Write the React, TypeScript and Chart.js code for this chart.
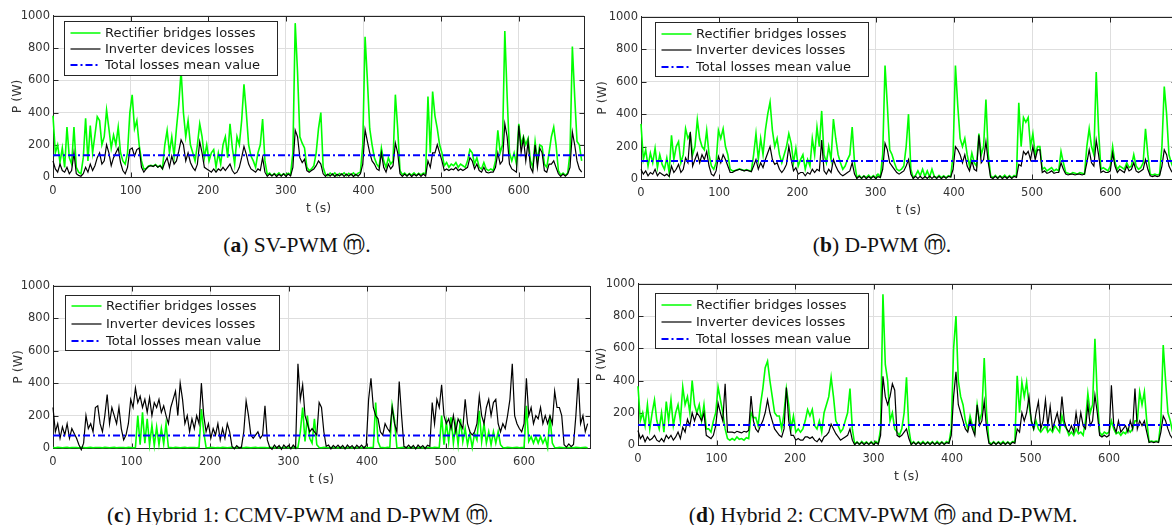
import React, { useEffect, useRef } from 'react';
import { Chart, registerables } from 'chart.js';

Chart.register(...registerables);

// ---------------- DATA ----------------
const TIME = [
  0, 3, 6, 9, 12, 15, 18, 21, 24, 27,
  30, 33, 36, 39, 42, 45, 48, 51, 54, 57,
  60, 63, 66, 69, 72, 75, 78, 81, 84, 87,
  90, 93, 96, 99, 102, 105, 108, 111, 114, 117,
  120, 123, 126, 129, 132, 135, 138, 141, 144, 147,
  150, 153, 156, 159, 162, 165, 168, 171, 174, 177,
  180, 183, 186, 189, 192, 195, 198, 201, 204, 207,
  210, 213, 216, 219, 222, 225, 228, 231, 234, 237,
  240, 243, 246, 249, 252, 255, 258, 261, 264, 267,
  270, 273, 276, 279, 282, 285, 288, 291, 294, 297,
  300, 303, 306, 309, 312, 315, 318, 321, 324, 327,
  330, 333, 336, 339, 342, 345, 348, 351, 354, 357,
  360, 363, 366, 369, 372, 375, 378, 381, 384, 387,
  390, 393, 396, 399, 402, 405, 408, 411, 414, 417,
  420, 423, 426, 429, 432, 435, 438, 441, 444, 447,
  450, 453, 456, 459, 462, 465, 468, 471, 474, 477,
  480, 483, 486, 489, 492, 495, 498, 501, 504, 507,
  510, 513, 516, 519, 522, 525, 528, 531, 534, 537,
  540, 543, 546, 549, 552, 555, 558, 561, 564, 567,
  570, 573, 576, 579, 582, 585, 588, 591, 594, 597,
  600, 603, 606, 609, 612, 615, 618, 621, 624, 627,
  630, 633, 636, 639, 642, 645, 648, 651, 654, 657,
  660, 663, 666, 669, 672, 675, 678, 681,
];

// (a) SV-PWM
const RECT_A = [
  380, 150, 200, 90, 180, 60, 310, 120, 80, 310,
  60, 30, 20, 120, 365, 100, 320, 150, 260, 375,
  350, 200, 250, 415, 300, 180, 260, 200, 310, 150,
  100, 80, 150, 400, 510, 300, 350, 200, 100, 50,
  53, 68, 73, 68, 78, 63, 73, 53, 200, 290,
  150, 250, 130, 300, 450, 660, 400, 250, 350, 200,
  150, 100, 200, 330, 250, 120, 200, 100, 150, 170,
  60, 150, 80, 200, 250, 120, 330, 180, 80, 250,
  200, 350, 575, 400, 200, 130, 100, 60, 150, 200,
  360, 100, 15, 24, 8, 22, 12, 25, 8, 20,
  12, 24, 15, 150, 955, 650, 250, 210, 180, 60,
  40, 50, 70, 150, 300, 400, 60, 15, 8, 24,
  12, 25, 8, 22, 14, 26, 9, 23, 12, 25,
  10, 24, 30, 200, 870, 600, 300, 200, 120, 80,
  60, 180, 100, 60, 120, 80, 100, 511, 300, 40,
  14, 25, 9, 22, 12, 26, 10, 23, 13, 24,
  20, 500, 150, 530, 380, 300, 200, 150, 70, 90,
  60, 80, 70, 90, 60, 80, 70, 60, 100, 170,
  150, 80, 120, 60, 50, 90, 50, 40, 50, 40,
  100, 290, 150, 200, 906, 500, 150, 100, 150, 80,
  330, 200, 250, 200, 240, 100, 60, 220, 100, 200,
  190, 80, 60, 150, 250, 310, 200, 40, 12, 24,
  10, 25, 150, 810, 500, 220, 200, 100,
];
const INV_A = [
  100, 50, 30, 80, 40, 30, 60, 20, 40, 150,
  20, 10, 5, 20, 60, 30, 80, 40, 70, 120,
  150, 80, 100, 200, 150, 70, 120, 150, 180, 90,
  40, 20, 60, 170, 180, 130, 170, 180, 60, 30,
  50, 65, 70, 65, 75, 60, 70, 50, 90, 120,
  60, 130, 80, 100, 160, 230, 200, 100, 150, 90,
  60, 40, 80, 220, 150, 60, 50, 40, 30, 50,
  30, 50, 40, 60, 40, 60, 80, 40, 20, 30,
  60, 120, 190, 140, 80, 50, 40, 30, 50, 40,
  120, 30, 4, 18, 6, 20, 3, 17, 5, 19,
  4, 18, 6, 60, 290, 250, 120, 90, 110, 40,
  30, 40, 50, 70, 100, 80, 20, 4, 18, 5,
  19, 3, 17, 6, 20, 4, 18, 5, 19, 3,
  17, 5, 20, 80, 294, 220, 150, 100, 80, 50,
  40, 150, 60, 30, 80, 50, 70, 210, 150, 20,
  4, 18, 5, 20, 3, 17, 6, 19, 4, 18,
  6, 100, 60, 150, 150, 200, 150, 100, 40, 50,
  40, 50, 45, 60, 40, 50, 40, 50, 60, 120,
  100, 50, 80, 40, 30, 60, 30, 25, 30, 30,
  60, 150, 80, 100, 330, 250, 80, 50, 40, 30,
  320, 150, 240, 100, 220, 60, 30, 200, 60, 180,
  150, 40, 30, 80, 80, 100, 60, 20, 4, 18,
  5, 19, 60, 280, 200, 100, 50, 30,
];
const MEAN_A = 135;

// (b) D-PWM
const RECT_B = [
  340, 120, 180, 80, 160, 100, 190, 70, 150, 90,
  60, 130, 40, 270, 120, 200, 230, 100, 150, 310,
  250, 280, 150, 200, 365, 250, 200, 180, 300, 150,
  80, 60, 100, 300, 250, 310, 200, 150, 60, 50,
  52, 57, 62, 57, 52, 58, 53, 48, 150, 280,
  120, 250, 150, 300, 400, 475, 300, 200, 250, 150,
  100, 150, 200, 280, 220, 100, 190, 80, 120, 150,
  60, 120, 80, 250, 150, 320, 200, 420, 150, 100,
  200, 120, 370, 250, 150, 100, 60, 80, 120, 150,
  320, 100, 8, 22, 6, 20, 9, 23, 7, 21,
  8, 30, 12, 150, 700, 450, 180, 150, 100, 60,
  50, 60, 80, 200, 400, 60, 8, 22, 50, 20,
  60, 15, 50, 12, 60, 15, 8, 22, 9, 20,
  7, 21, 15, 150, 700, 450, 250, 200, 250, 150,
  80, 160, 100, 80, 280, 150, 200, 490, 150, 20,
  8, 22, 6, 20, 9, 23, 7, 21, 8, 22,
  15, 470, 200, 380, 350, 380, 200, 280, 150, 200,
  200, 60, 70, 50, 60, 70, 50, 60, 50, 170,
  100, 40, 35, 30, 40, 35, 30, 40, 35, 30,
  200, 310, 200, 150, 660, 300, 60, 70, 60, 50,
  80, 200, 100, 60, 80, 70, 60, 100, 70, 80,
  150, 80, 60, 70, 100, 310, 150, 30, 25, 30,
  25, 30, 200, 570, 400, 150, 100, 60,
];
const INV_B = [
  60, 30, 50, 20, 40, 30, 60, 20, 40, 30,
  20, 30, 15, 80, 40, 60, 90, 40, 60, 130,
  100, 290, 80, 120, 160, 100, 150, 120, 170, 80,
  30, 20, 50, 140, 100, 150, 120, 80, 40, 40,
  50, 55, 60, 55, 50, 55, 50, 45, 80, 120,
  60, 100, 70, 120, 160, 200, 120, 90, 100, 60,
  40, 60, 90, 200, 120, 50, 70, 30, 40, 40,
  20, 40, 30, 60, 40, 60, 50, 240, 50, 30,
  60, 40, 120, 80, 50, 30, 20, 30, 40, 50,
  100, 30, 3, 16, 4, 18, 2, 15, 4, 17,
  3, 15, 10, 60, 220, 180, 100, 80, 60, 40,
  30, 40, 50, 80, 120, 30, 3, 16, 4, 17,
  2, 15, 4, 18, 3, 16, 4, 17, 2, 15,
  4, 16, 12, 60, 200, 180, 150, 100, 150, 80,
  50, 110, 60, 50, 270, 100, 120, 230, 100, 10,
  3, 16, 4, 18, 2, 15, 4, 17, 3, 16,
  10, 90, 80, 170, 150, 170, 120, 200, 120, 180,
  180, 40, 50, 35, 40, 50, 35, 40, 40, 100,
  60, 30, 25, 30, 30, 25, 30, 30, 25, 30,
  100, 180, 100, 80, 240, 150, 40, 50, 40, 40,
  50, 160, 80, 40, 60, 50, 40, 80, 50, 60,
  100, 50, 40, 50, 60, 120, 60, 20, 15, 20,
  15, 20, 80, 180, 150, 80, 50, 30,
];
const MEAN_B = 111;

// (c) Hybrid 1
const RECT_C = [
  3, 2, 4, 3, 2, 3, 4, 2, 3, 3,
  3, 2, 4, 3, 2, 3, 4, 2, 3, 3,
  3, 2, 4, 3, 2, 3, 4, 2, 3, 3,
  3, 2, 4, 3, 2, 3, 200, 20, 220, 30,
  180, 20, 140, 15, 130, 20, 120, 25, 150, 3,
  3, 2, 4, 3, 2, 3, 4, 2, 3, 3,
  3, 2, 4, 240, 100, 3, 2, 4, 3, 2,
  3, 2, 4, 3, 2, 3, 4, 2, 3, 3,
  3, 2, 4, 3, 2, 3, 4, 2, 3, 3,
  3, 2, 4, 3, 2, 3, 4, 2, 3, 3,
  3, 2, 4, 3, 3, 100, 250, 40, 200, 60,
  30, 180, 20, 3, 2, 4, 3, 2, 3, 3,
  3, 2, 4, 3, 2, 3, 4, 2, 3, 3,
  3, 2, 4, 3, 2, 3, 4, 280, 40, 3,
  3, 2, 4, 3, 260, 170, 3, 2, 3, 4,
  3, 2, 4, 3, 2, 3, 4, 2, 3, 3,
  3, 2, 4, 3, 2, 200, 20, 160, 40, 190,
  30, 150, 20, 180, 40, 120, 20, 90, 3, 90,
  50, 230, 40, 150, 30, 100, 20, 100, 30, 100,
  20, 3, 2, 4, 3, 2, 3, 4, 2, 3,
  3, 260, 40, 70, 30, 70, 30, 70, 30, 60,
  3, 200, 30, 3, 2, 4, 3, 2, 3, 3,
  3, 2, 4, 3, 2, 3, 4, 2,
];
const INV_C = [
  250, 100, 150, 60, 130, 80, 150, 60, 120, 90,
  60, 20, -10, 30, 200, 120, 150, 100, 250, 260,
  150, 100, 200, 330, 150, 250, 200, 150, 250, 120,
  50, 80, 150, 300, 250, 370, 280, 320, 250, 300,
  220, 310, 200, 280, 250, 300, 220, 260, 200, 150,
  250, 300, 350, 200, 400, 300, 150, 200, 100, 180,
  120, 200, 150, 400, 200, 100, 150, 60, 120, 80,
  150, 50, 120, 60, 150, 100, 10, -5, 15, 0,
  5, 100, 290, 200, 80, 60, 80, 100, 60, 80,
  260, 50, 5, -8, 18, 0, 15, -8, 18, 2,
  16, -5, 18, 0, 520, 300, 390, 200, 150, 100,
  120, 100, 80, 280, 250, 100, 10, 18, -5, 16,
  2, 18, 0, 16, -5, 18, 2, 15, -4, 17,
  2, 18, 0, 16, 300, 430, 250, 200, 180, 100,
  80, 150, 120, 100, 250, 150, 100, 410, 200, 10,
  2, 18, 0, 16, -5, 18, 2, 15, -4, 17,
  10, 280, 150, 300, 250, 390, 200, 150, 180, 120,
  200, 100, 180, 150, 120, 300, 150, 100, 80, 100,
  150, 320, 200, 150, 250, 300, 200, 280, 300, 150,
  100, 150, 120, 200, 300, 520, 200, 150, 120, 100,
  150, 430, 200, 250, 150, 200, 180, 250, 150, 200,
  150, 200, 150, 350, 250, 250, 200, 20, 5, 25,
  8, 22, 200, 430, 150, 200, 100, 150,
];
const MEAN_C = 77;

// (d) Hybrid 2
const RECT_D = [
  365, 150, 200, 120, 250, 100, 200, 280, 150, 100,
  200, 80, 270, 150, 280, 120, 200, 250, 150, 360,
  250, 300, 200, 400, 250, 200, 250, 150, 250, 100,
  100, 80, 150, 200, 360, 280, 200, 100, 40, 30,
  40, 30, 50, 35, 40, 30, 45, 40, 200, 170,
  170, 120, 250, 350, 480, 520, 400, 300, 200, 180,
  180, 100, 200, 350, 250, 100, 180, 80, 100, 80,
  100, 150, 220, 180, 220, 120, 100, 150, 80, 200,
  250, 300, 420, 300, 150, 120, 80, 100, 150, 200,
  350, 100, 6, 20, 5, 22, 8, 20, 5, 21,
  7, 22, 8, 100, 935, 500, 400, 150, 200, 100,
  80, 60, 100, 200, 420, 100, 6, 21, 5, 20,
  8, 22, 6, 20, 7, 21, 5, 22, 8, 20,
  6, 21, 12, 100, 600, 800, 400, 300, 250, 150,
  100, 180, 120, 80, 250, 150, 200, 540, 200, 20,
  6, 21, 5, 20, 8, 22, 6, 20, 7, 21,
  20, 430, 200, 390, 300, 390, 250, 150, 100, 150,
  100, 80, 100, 120, 80, 100, 80, 120, 100, 80,
  180, 120, 100, 60, 80, 60, 100, 70, 80, 60,
  150, 320, 200, 250, 660, 300, 80, 60, 80, 70,
  80, 150, 100, 70, 80, 60, 80, 70, 100, 80,
  100, 150, 150, 330, 250, 330, 150, 20, 25, 20,
  25, 20, 150, 620, 400, 200, 150, 80,
];
const INV_D = [
  90, 40, 60, 20, 50, 30, 40, 60, 30, 20,
  40, 20, 60, 40, 60, 30, 50, 80, 40, 110,
  80, 160, 120, 200, 150, 200, 180, 150, 200, 60,
  50, 40, 60, 120, 260, 200, 150, 380, 80, 80,
  80, 75, 85, 80, 75, 85, 80, 90, 304, 150,
  100, 80, 120, 150, 200, 280, 200, 150, 100, 80,
  60, 50, 100, 356, 150, 60, 60, 30, 40, 30,
  30, 50, 50, 40, 50, 30, 20, 40, 20, 50,
  60, 80, 130, 100, 70, 50, 30, 40, 50, 60,
  100, 30, 2, 16, 3, 17, 2, 15, 3, 16,
  2, 15, 5, 60, 427, 300, 250, 300, 380, 340,
  60, 50, 60, 80, 100, 40, 2, 16, 3, 17,
  2, 15, 3, 16, 2, 17, 3, 15, 2, 16,
  3, 15, 10, 60, 300, 454, 250, 200, 150, 100,
  80, 150, 100, 60, 250, 120, 150, 270, 100, 10,
  2, 16, 3, 17, 2, 15, 3, 16, 2, 17,
  10, 100, 80, 200, 150, 200, 300, 150, 100, 200,
  270, 100, 150, 280, 120, 240, 100, 150, 200, 120,
  300, 150, 100, 80, 120, 80, 200, 100, 200, 120,
  100, 250, 120, 150, 310, 200, 60, 50, 60, 50,
  60, 371, 120, 80, 150, 80, 100, 120, 80, 150,
  100, 350, 100, 150, 120, 150, 80, 15, 20, 15,
  20, 15, 80, 180, 150, 100, 60, 40,
];
const MEAN_D = 124;

const X_TICKS = [0, 100, 200, 300, 400, 500, 600];
const Y_TICKS = [0, 200, 400, 600, 800, 1000];
const X_MAX = 684;
const Y_MAX = 1000;
const LEGEND_TEXT = ['Rectifier bridges losses', 'Inverter devices losses', 'Total losses mean value'];
const X_TITLE = 't (s)';
const Y_TITLE = 'P (W)';

// ---------------- STYLE ----------------
const GREEN = '#00ff00';
const BLACK = '#000000';
const BLUE = '#0000ff';
const FRAME = '#262626';
const GRID = '#dedede';
const TEXT = '#333333';
const FONT = '"DejaVu Sans", sans-serif';

type Leg = { dx: number; dy: number; w: number; h: number; r0: number; gap: number };
type Panel = {
  rect: number[]; inv: number[]; mean: number;
  left: number; top: number; w: number; h: number;
  yTitle: number; leg: Leg;
  capX: number; capY: number; capLetter: string; capText: string;
};

const PANELS: Panel[] = [
  { rect: RECT_A, inv: INV_A, mean: MEAN_A, left: 53, top: 16, w: 531, h: 161, yTitle: 35,
    leg: { dx: 10.5, dy: 5, w: 213, h: 54, r0: 11.5, gap: 16 },
    capX: 297, capY: 246, capLetter: 'a', capText: 'SV-PWM \u24DC.' },
  { rect: RECT_B, inv: INV_B, mean: MEAN_B, left: 641, top: 17, w: 535, h: 162, yTitle: 38,
    leg: { dx: 14, dy: 5.3, w: 213, h: 54, r0: 11, gap: 16.7 },
    capX: 882, capY: 246, capLetter: 'b', capText: 'D-PWM \u24DC.' },
  { rect: RECT_C, inv: INV_C, mean: MEAN_C, left: 53, top: 286, w: 537, h: 162, yTitle: 34,
    leg: { dx: 11.6, dy: 8.6, w: 214, h: 55, r0: 10.7, gap: 17.5 },
    capX: 300, capY: 516, capLetter: 'c', capText: 'Hybrid 1: CCMV-PWM and D-PWM \u24DC.' },
  { rect: RECT_D, inv: INV_D, mean: MEAN_D, left: 638, top: 284, w: 537, h: 161, yTitle: 36,
    leg: { dx: 16.7, dy: 9.3, w: 213, h: 55, r0: 11, gap: 17.3 },
    capX: 883, capY: 516, capLetter: 'd', capText: 'Hybrid 2: CCMV-PWM \u24DC and D-PWM.' },
];

function framePlugin(p: Panel) {
  return {
    id: 'frameLegend',
    beforeDatasetsDraw(chart: any) {
      const { ctx, chartArea: a, scales } = chart;
      const al = (v: number) => Math.round(v) + 0.5;
      const L = al(a.left), R = al(a.right), T = al(a.top), B = al(a.bottom);
      ctx.save();
      ctx.strokeStyle = FRAME;
      ctx.lineWidth = 1;
      ctx.strokeRect(L, T, R - L, B - T);
      ctx.beginPath();
      X_TICKS.forEach((v) => {
        const x = al(scales.x.getPixelForValue(v));
        ctx.moveTo(x, T); ctx.lineTo(x, T + 5);
        ctx.moveTo(x, B); ctx.lineTo(x, B - 5);
      });
      Y_TICKS.forEach((v) => {
        const y = al(scales.y.getPixelForValue(v));
        ctx.moveTo(L, y); ctx.lineTo(L + 5, y);
        ctx.moveTo(R, y); ctx.lineTo(R - 5, y);
      });
      ctx.stroke();
      ctx.restore();
    },
    afterDatasetsDraw(chart: any) {
      const { ctx, chartArea: a } = chart;
      const lg = p.leg;
      const bx = Math.round(a.left + lg.dx) + 0.5;
      const by = Math.round(a.top + lg.dy) + 0.5;
      ctx.save();
      ctx.fillStyle = '#ffffff';
      ctx.fillRect(bx, by, lg.w, lg.h);
      ctx.strokeStyle = FRAME;
      ctx.lineWidth = 1;
      ctx.strokeRect(bx, by, lg.w, lg.h);
      const styles = [
        { c: GREEN, w: 1.5, d: [] as number[] },
        { c: BLACK, w: 1.2, d: [] as number[] },
        { c: BLUE, w: 2, d: [7, 3, 2, 3] },
      ];
      ctx.font = `13px ${FONT}`;
      ctx.textBaseline = 'middle';
      ctx.textAlign = 'left';
      LEGEND_TEXT.forEach((t, i) => {
        const y = Math.round(by + lg.r0 + i * lg.gap);
        ctx.beginPath();
        ctx.setLineDash(styles[i].d);
        ctx.strokeStyle = styles[i].c;
        ctx.lineWidth = styles[i].w;
        ctx.moveTo(bx + 6, y);
        ctx.lineTo(bx + 36, y);
        ctx.stroke();
        ctx.setLineDash([]);
        ctx.fillStyle = '#1a1a1a';
        ctx.fillText(t, bx + 40.5, y + 0.5);
      });
      ctx.restore();
    },
  };
}

function makeConfig(p: Panel): any {
  const pts = (vals: number[]) => TIME.map((t, i) => ({ x: t, y: vals[i] }));
  const tickFont = { family: FONT, size: 11.5 };
  const titleFont = { family: FONT, size: 12.5 };
  const fmt = (v: any) => String(v);
  return {
    type: 'line',
    data: {
      datasets: [
        { label: LEGEND_TEXT[2], data: [{ x: 0, y: p.mean }, { x: X_MAX, y: p.mean }],
          borderColor: BLUE, borderWidth: 2, borderDash: [7, 3, 2, 3], pointRadius: 0, order: 0, clip: false },
        { label: LEGEND_TEXT[1], data: pts(p.inv), borderColor: BLACK, borderWidth: 1.2,
          pointRadius: 0, order: 1, clip: false },
        { label: LEGEND_TEXT[0], data: pts(p.rect), borderColor: GREEN, borderWidth: 1.6,
          pointRadius: 0, order: 2, clip: false },
      ],
    },
    options: {
      responsive: false,
      maintainAspectRatio: false,
      animation: false,
      events: [],
      layout: { padding: { top: 8, right: 12, left: 0, bottom: 0 } },
      plugins: { legend: { display: false }, tooltip: { enabled: false } },
      scales: {
        x: {
          type: 'linear', min: 0, max: X_MAX,
          afterFit: (s: any) => { s.height = 40; },
          ticks: { stepSize: 100, includeBounds: false, autoSkip: false, maxRotation: 0,
            padding: 7, color: TEXT, font: tickFont, callback: fmt },
          grid: { color: GRID, drawTicks: false, lineWidth: 1 },
          border: { display: true, color: FRAME, width: 1 },
          title: { display: true, text: X_TITLE, color: TEXT, font: titleFont, padding: { top: 0, bottom: 0.5 } },
        },
        y: {
          type: 'linear', min: 0, max: Y_MAX,
          afterFit: (s: any) => { s.width = 52; },
          ticks: { stepSize: 200, includeBounds: false, padding: 3, color: TEXT, font: tickFont, callback: fmt },
          grid: { color: GRID, drawTicks: false, lineWidth: 1 },
          border: { display: true, color: FRAME, width: 1 },
          title: { display: true, text: Y_TITLE, color: TEXT, font: titleFont,
            padding: { top: 52 - p.yTitle - 7.5, bottom: 0 } },
        },
      },
    },
    plugins: [framePlugin(p)],
  };
}

function PanelChart({ p }: { p: Panel }) {
  const ref = useRef<HTMLCanvasElement>(null);
  useEffect(() => {
    const canvas = ref.current!;
    canvas.width = 700; canvas.height = 260;
    canvas.style.width = '700px'; canvas.style.height = '260px';
    let chart = new Chart(canvas, makeConfig(p));
    const a = chart.chartArea;
    const l = a.left, t = a.top, r = chart.width - a.right, b = chart.height - a.bottom;
    chart.destroy();
    const W = Math.round(l + p.w + r);
    const H = Math.round(t + p.h + b);
    canvas.width = W; canvas.height = H;
    canvas.style.width = W + 'px'; canvas.style.height = H + 'px';
    canvas.style.left = Math.round(p.left - l) + 'px';
    canvas.style.top = Math.round(p.top - t) + 'px';
    chart = new Chart(canvas, makeConfig(p));
    return () => chart.destroy();
  }, []);
  return <canvas ref={ref} style={{ position: 'absolute', left: 0, top: 0 }} />;
}

function Caption({ p }: { p: Panel }) {
  return (
    <div
      style={{
        position: 'absolute', left: p.capX, top: p.capY, transform: 'translate(-50%, -50%)',
        whiteSpace: 'nowrap', fontFamily: '"Liberation Serif", serif', fontSize: 21.5,
        color: '#111', lineHeight: 1,
      }}
    >
      (<b>{p.capLetter}</b>) {p.capText}
    </div>
  );
}

export default function App() {
  return (
    <div
      style={{
        position: 'fixed', left: 0, top: 0, width: 1172, height: 525,
        overflow: 'hidden', background: '#ffffff',
      }}
    >
      {PANELS.map((p, i) => (
        <React.Fragment key={i}>
          <PanelChart p={p} />
          <Caption p={p} />
        </React.Fragment>
      ))}
    </div>
  );
}
